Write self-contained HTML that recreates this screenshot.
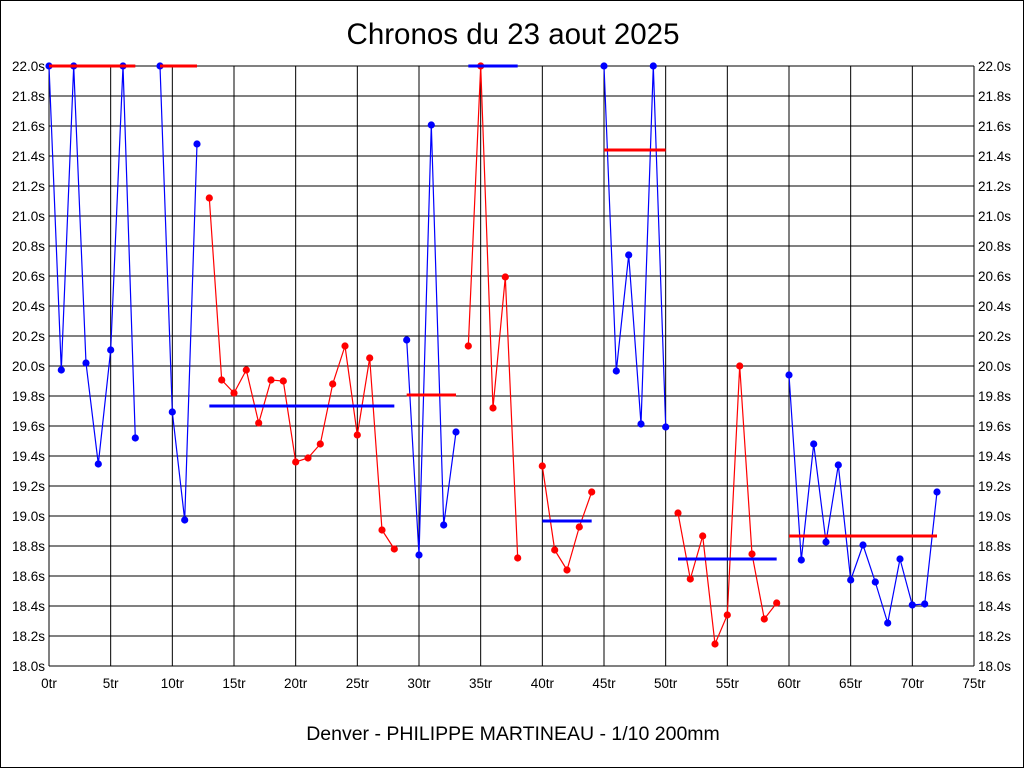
<!DOCTYPE html><html><head><meta charset="utf-8"><style>
html,body{margin:0;padding:0;background:#fff}
svg{display:block}
text{font-family:"Liberation Sans",Arial,sans-serif}
</style></head><body>
<svg id="s" width="1024" height="768" xmlns="http://www.w3.org/2000/svg">
<rect x="0.5" y="0.5" width="1023" height="767" fill="#fff" stroke="#000" stroke-width="1"/>
<text x="513" y="44" font-size="29.5" text-anchor="middle">Chronos du 23 aout 2025</text>
<text x="513" y="740" font-size="19.5" text-anchor="middle">Denver - PHILIPPE MARTINEAU - 1/10 200mm</text>
<g id="g"></g>
</svg>
<script>
var g=document.getElementById('g'),h='';
function X(i){return 49+i*925/75;}
for(var k=0;k<=20;k++){var y=66+k*30;h+='<line x1="49" x2="974" y1="'+y+'" y2="'+y+'" stroke="#000"/>';
var v=(22-k*0.2).toFixed(1)+'s';
h+='<text x="45" y="'+(y+5)+'" font-size="13.5" text-anchor="end">'+v+'</text><text x="978" y="'+(y+5)+'" font-size="13.5">'+v+'</text>';}
for(var k=0;k<=15;k++){var x=X(k*5);h+='<line y1="66" y2="666" x1="'+x+'" x2="'+x+'" stroke="#000"/>';
h+='<text x="'+x+'" y="688" font-size="13.5" text-anchor="middle">'+(k*5)+'tr</text>';}
var segs=[
['b',0,[66,370,66,363,464,350,66,438]],
['b',9,[66,412,520,144]],
['r',13,[198,380,393,370,423,380,381,462,458,444,384,346,435,358,530,549]],
['b',29,[340,555,125,525,432]],
['r',34,[346,66,408,277,558]],
['r',40,[466,550,570,527,492]],
['b',45,[66,371,255,424,66,427]],
['r',51,[513,579,536,644,615,366,554,619,603]],
['b',60,[375,560,444,542,465,580,545,582,623,559,605,604,492]]];
segs.forEach(function(s){var c=s[0]=='b'?'#0000ff':'#ff0000',p=[];
s[2].forEach(function(y,j){p.push(X(s[1]+j).toFixed(1)+','+y);});
h+='<polyline points="'+p.join(' ')+'" fill="none" stroke="'+c+'" stroke-width="1.2"/>';
s[2].forEach(function(y,j){h+='<circle cx="'+X(s[1]+j).toFixed(1)+'" cy="'+y+'" r="3.6" fill="'+c+'"/>';});});
var av=[['r',0,7,66],['r',9,12,66],['b',13,28,406],['r',29,33,395],['b',34,38,66],['b',40,44,521],['r',45,50,150],['b',51,59,559],['r',60,72,536]];
av.forEach(function(a){h+='<line x1="'+X(a[1])+'" x2="'+X(a[2])+'" y1="'+a[3]+'" y2="'+a[3]+'" stroke="'+(a[0]=='b'?'#0000ff':'#ff0000')+'" stroke-width="3"/>';});
g.innerHTML=h;
</script>
</body></html>
